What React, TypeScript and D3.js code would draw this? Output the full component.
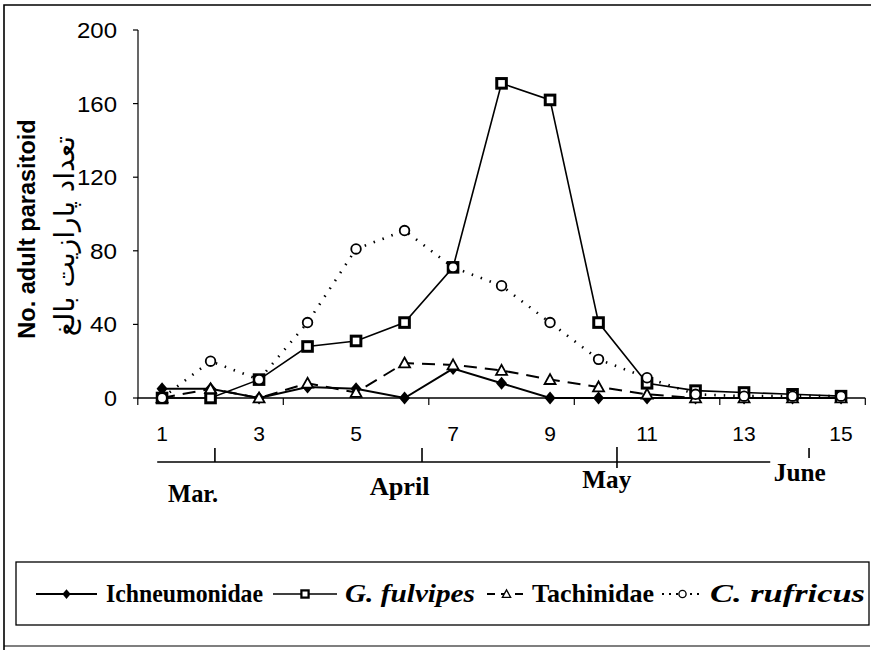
import React from "react";
import * as d3 from "d3";

const categories = [1, 2, 3, 4, 5, 6, 7, 8, 9, 10, 11, 12, 13, 14, 15];
const xTickLabels = ["1", "3", "5", "7", "9", "11", "13", "15"];
const yTicks = [0, 40, 80, 120, 160, 200];

const ichneumonidae = [5, 5, 0, 6, 5, 0, 16, 8, 0, 0, 0, 0, 0, 0, 0];
const gFulvipes = [0, 0, 10, 28, 31, 41, 71, 171, 162, 41, 8, 4, 3, 2, 1];
const tachinidae = [0, 5, 0, 8, 3, 19, 18, 15, 10, 6, 2, 0, 0, 0, 0];
const cRufricus = [0, 20, 10, 41, 81, 91, 71, 61, 41, 21, 11, 2, 1, 1, 1];

const seriesNames = ["Ichneumonidae", "G. fulvipes", "Tachinidae", "C. rufricus"];
const monthNames = ["Mar.", "April", "May", "June"];

const W = 872;
const H = 653;
const SERIF = "'Liberation Serif', 'Times New Roman', Times, serif";
const SANS = "'Liberation Sans', Arial, Helvetica, sans-serif";

type Shape = "diamond" | "square" | "triangle" | "circle";

function Marker({ x, y, shape, s = 1 }: { x: number; y: number; shape: Shape; s?: number }) {
  if (shape === "diamond") {
    const w = 5.5 * s, h = 6.5 * s;
    return <path d={`M${x},${y - h}L${x + w},${y}L${x},${y + h}L${x - w},${y}Z`} fill="#000" />;
  }
  if (shape === "square") {
    const a = 4.8 * s;
    return <rect x={x - a} y={y - a} width={2 * a} height={2 * a} fill="#fff" stroke="#000" strokeWidth={3 * s} />;
  }
  if (shape === "triangle") {
    const w = 5.5 * s, h = 5.5 * s;
    return <path d={`M${x},${y - h}L${x + w},${y + h * 0.8}L${x - w},${y + h * 0.8}Z`} fill="#fff" stroke="#000" strokeWidth={1.8 * s} />;
  }
  return <circle cx={x} cy={y} r={4.8 * s} fill="#fff" stroke="#000" strokeWidth={1.8 * s} />;
}

export default function App() {
  const x = d3.scaleBand<number>().domain(categories).range([137.8, 865.3]).padding(0);
  const cx = (c: number) => (x(c) as number) + x.bandwidth() / 2;
  const y = d3.scaleLinear().domain([0, 200]).range([398, 30]);
  // category-unit to pixel (for month annotation axis)
  const cu = (v: number) => cx(1) + (v - 1) * x.bandwidth();

  const series = [
    { name: seriesNames[0], values: ichneumonidae, shape: "diamond" as Shape, dash: undefined, width: 2, italic: false },
    { name: seriesNames[1], values: gFulvipes, shape: "square" as Shape, dash: undefined, width: 1.6, italic: true },
    { name: seriesNames[2], values: tachinidae, shape: "triangle" as Shape, dash: "13 8", width: 2, italic: false },
    { name: seriesNames[3], values: cRufricus, shape: "circle" as Shape, dash: "1.5 8", width: 2.6, italic: true },
  ];

  const line = d3
    .line<number>()
    .x((_, i) => cx(categories[i]))
    .y((d) => y(d));

  const bandTicks = categories.filter((_, i) => i % 3 === 0).map((c) => x(c) as number);
  bandTicks.push(x.range()[1]);

  const legendItems = [
    { lx0: 36, lx1: 97, tx: 106, tw: 157 },
    { lx0: 273, lx1: 337, tx: 345, tw: 130 },
    { lx0: 487, lx1: 526, tx: 532, tw: 122 },
    { lx0: 662, lx1: 703, tx: 710, tw: 155 },
  ];
  const legendY = 594;

  const monthTicks = [
    { pos: 2.09, y0: 448, y1: 462 },
    { pos: 6.36, y0: 448, y1: 462 },
    { pos: 10.38, y0: 447, y1: 468 },
    { pos: 14.34, y0: 448, y1: 458 },
  ];
  const monthLabels = [
    { pos: 1.64, y: 502, w: 50 },
    { pos: 5.9, y: 495, w: 60 },
    { pos: 10.17, y: 488, w: 49 },
    { pos: 14.15, y: 481, w: 52 },
  ];

  return (
    <svg
      width={W}
      height={H}
      style={{ position: "absolute", left: 0, top: 0, background: "#fff" }}
      xmlns="http://www.w3.org/2000/svg"
    >
      <rect x={0} y={0} width={W} height={H} fill="#fff" />
      {/* frame */}
      <path d={`M4,650L4,5L871,5`} fill="none" stroke="#000" strokeWidth={1.6} />
      <line x1={4} x2={870} y1={646} y2={646} stroke="#000" strokeWidth={1.2} />

      {/* y axis */}
      <line x1={138} x2={138} y1={y(200)} y2={y(0)} stroke="#000" strokeWidth={1.2} />
      {yTicks.map((t) => (
        <g key={t}>
          <line x1={133} x2={138} y1={y(t)} y2={y(t)} stroke="#000" strokeWidth={1.2} />
          <text
            x={117}
            y={y(t)}
            dy="0.36em"
            textAnchor="end"
            fontFamily={SANS}
            fontSize={22}
            textLength={t >= 100 ? 40 : t >= 10 ? 27 : 13}
            lengthAdjust="spacingAndGlyphs"
            fill="#000"
          >
            {t}
          </text>
        </g>
      ))}

      {/* x axis */}
      <line x1={x.range()[0]} x2={x.range()[1]} y1={y(0)} y2={y(0)} stroke="#000" strokeWidth={1.4} />
      {bandTicks.map((t, i) => (
        <line key={i} x1={t} x2={t} y1={y(0)} y2={y(0) + 7} stroke="#000" strokeWidth={1.2} />
      ))}
      {categories
        .filter((c) => xTickLabels.includes(String(c)))
        .map((c) => (
          <text
            key={c}
            x={cx(c)}
            y={441}
            textAnchor="middle"
            fontFamily={SANS}
            fontSize={21}
            fill="#000"
          >
            {c}
          </text>
        ))}

      {/* y axis titles */}
      <text
        transform={`translate(35,229) rotate(-90)`}
        textAnchor="middle"
        fontFamily={SANS}
        fontWeight="bold"
        fontSize={23.5}
        fill="#000"
      >
        No. adult parasitoid
      </text>
      <text
        transform={`translate(74,236) rotate(-90)`}
        textAnchor="middle"
        fontFamily="'DejaVu Sans', sans-serif"
        fontSize={28}
        fill="#000"
        direction="rtl"
      >
        تعداد پارازیت بالغ
      </text>

      {/* series lines */}
      {series.map((s) => (
        <path
          key={s.name}
          d={line(s.values) || ""}
          fill="none"
          stroke="#000"
          strokeWidth={s.width}
          strokeDasharray={s.dash}
          strokeLinecap="butt"
        />
      ))}
      {series.map((s) => (
        <g key={s.name + "m"}>
          {s.values.map((v, i) => (
            <Marker key={i} x={cx(categories[i])} y={y(v)} shape={s.shape} />
          ))}
        </g>
      ))}

      {/* month axis */}
      <line x1={cu(0.9)} x2={cu(13.54)} y1={462} y2={462} stroke="#000" strokeWidth={1.6} />
      {monthTicks.map((m, i) => (
        <line key={i} x1={cu(m.pos)} x2={cu(m.pos)} y1={m.y0} y2={m.y1} stroke="#000" strokeWidth={1.6} />
      ))}
      {monthNames.map((m, i) => (
        <text
          key={m}
          x={cu(monthLabels[i].pos) - monthLabels[i].w / 2}
          y={monthLabels[i].y}
          fontFamily={SERIF}
          fontWeight="bold"
          fontSize={25}
          textLength={monthLabels[i].w}
          lengthAdjust="spacingAndGlyphs"
          fill="#000"
        >
          {m}
        </text>
      ))}

      {/* legend */}
      <rect x={16} y={562} width={853} height={63} fill="#fff" stroke="#000" strokeWidth={1.3} />
      {series.map((s, i) => {
        const it = legendItems[i];
        return (
          <g key={s.name + "lg"}>
            <line
              x1={it.lx0}
              x2={it.lx1}
              y1={legendY}
              y2={legendY}
              stroke="#000"
              strokeWidth={s.width === 2.6 ? 2 : s.width}
              strokeDasharray={s.dash === "13 8" ? "8 6" : s.dash === "1.5 8" ? "2 5" : undefined}
            />
            <Marker x={(it.lx0 + it.lx1) / 2} y={legendY} shape={s.shape} s={0.75} />
            <text
              x={it.tx}
              y={legendY}
              dy="0.33em"
              fontFamily={SERIF}
              fontWeight="bold"
              fontStyle={s.italic ? "italic" : "normal"}
              fontSize={25}
              textLength={it.tw}
              lengthAdjust="spacingAndGlyphs"
              fill="#000"
            >
              {s.name}
            </text>
          </g>
        );
      })}
    </svg>
  );
}
